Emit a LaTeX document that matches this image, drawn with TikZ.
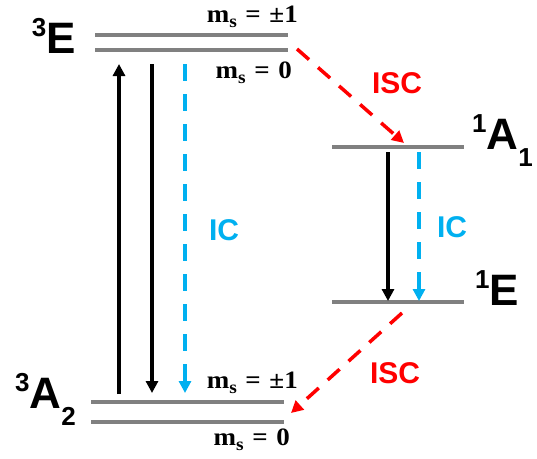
\documentclass[tikz,border=0pt]{standalone}
\usepackage[no-math]{fontspec}
\setmainfont{Liberation Sans}
\newfontfamily\spinfont{Liberation Serif}
\usetikzlibrary{arrows.meta}

\definecolor{levelgray}{HTML}{808080}
\definecolor{iccyan}{HTML}{00B0F0}
\definecolor{iscred}{HTML}{FF0000}

% term symbol: superscript multiplicity, letter, optional subscript
\newcommand{\termsym}[3]{%
  \raisebox{17pt}{\fontsize{26}{26}\selectfont #1}%
  {\fontsize{44}{44}\selectfont #2}%
  \raisebox{-17pt}{\fontsize{26}{26}\selectfont #3}}
% spin projection label m_s = value
\newcommand{\spinlabel}[1]{\scalebox{1.08}[1]{%
  m\raisebox{-5pt}{\fontsize{18}{18}\selectfont s}\hspace{8pt}=\hspace{8pt}#1}}

\begin{document}
\begin{tikzpicture}[x=1pt,y=-1pt,
  level/.style={draw=levelgray,line width=4.8pt},
  radiative/.style={draw=black,line width=3.5pt,-{Triangle[length=12pt,width=12pt]}},
  icarrow/.style={draw=iccyan,line width=3.5pt,dash pattern=on 16.7pt off 13.3pt,-{Triangle[length=12pt,width=12pt]}},
  iscarrow/.style={draw=iscred,line width=3.5pt,dash pattern=on 16pt off 12pt,-{Triangle[length=12pt,width=12pt]}},
  term/.style={inner sep=0pt,font=\bfseries},
  spin/.style={inner sep=0pt,font=\fontsize{25}{25}\selectfont\spinfont\bfseries},
  proc/.style={inner sep=0pt,font=\fontsize{30}{30}\selectfont\bfseries}]
\useasboundingbox (0,0) rectangle (537,458);

% energy levels
\coordinate (E1l) at (95,35);  \coordinate (E1r) at (288,35);
\coordinate (E0l) at (95,50);  \coordinate (E0r) at (288,50);
\coordinate (Al) at (332,147); \coordinate (Ar) at (464,147);
\coordinate (Sl) at (332,302); \coordinate (Sr) at (464,302);
\coordinate (G1l) at (91,402); \coordinate (G1r) at (284,402);
\coordinate (G0l) at (91,422); \coordinate (G0r) at (284,422);
\draw[level] (E1l) -- (E1r);
\draw[level] (E0l) -- (E0r);
\draw[level] (Al) -- (Ar);
\draw[level] (Sl) -- (Sr);
\draw[level] (G1l) -- (G1r);
\draw[level] (G0l) -- (G0r);

% term symbols
\node[term,anchor=base east] (tE) at (76,53) {\termsym{3}{E}{}};
\node[term,anchor=base west] (tA1) at (472,149) {\termsym{1}{A}{1}};
\node[term,anchor=base west] (tE1) at (475,305) {\termsym{1}{E}{}};
\node[term,anchor=base west] (tA2) at (15,408) {\termsym{3}{A}{2}};

% spin sublevels
\node[spin,anchor=base east] (sE1) at (298,22) {\spinlabel{±1}};
\node[spin,anchor=base east] (sE0) at (292,78) {\spinlabel{0}};
\node[spin,anchor=base east] (sG1) at (298,388) {\spinlabel{±1}};
\node[spin,anchor=base east] (sG0) at (290,445) {\spinlabel{0}};

% arrow end points
\coordinate (upS) at (119,394); \coordinate (upT) at (119,64);
\coordinate (dnS) at (152,64);  \coordinate (dnT) at (152,393);
\coordinate (icS) at (185,64);  \coordinate (icT) at (185,393);
\coordinate (rS) at (388,152);  \coordinate (rT) at (388,301);
\coordinate (ic2S) at (419,152); \coordinate (ic2T) at (419,301);
\coordinate (isc1S) at (297,49); \coordinate (isc1T) at (404,143);
\coordinate (isc2S) at (402,313); \coordinate (isc2T) at (291,413);

\draw[radiative] (upS) -- (upT);
\draw[radiative] (dnS) -- (dnT);
\draw[icarrow] (icS) -- (icT);
\draw[radiative] (rS) -- (rT);
\draw[icarrow] (ic2S) -- (ic2T);
\draw[iscarrow] (isc1S) -- (isc1T);
\draw[iscarrow] (isc2S) -- (isc2T);

% process labels
\node[proc,text=iccyan] (lic1) at (224,230) {IC};
\node[proc,text=iccyan] (lic2) at (452,227) {IC};
\node[proc,text=iscred] (lisc1) at (397,83) {ISC};
\node[proc,text=iscred] (lisc2) at (395,373) {ISC};
\end{tikzpicture}
\end{document}
